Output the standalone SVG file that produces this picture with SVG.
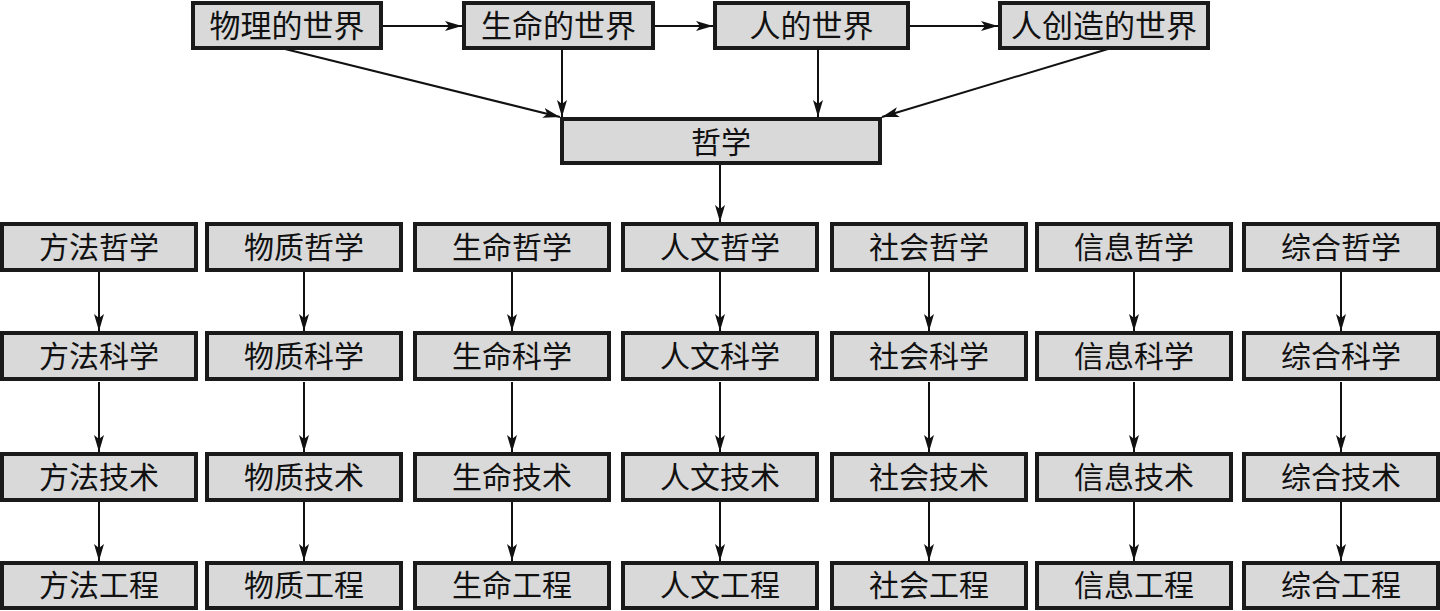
<svg xmlns="http://www.w3.org/2000/svg" width="1440" height="611" viewBox="0 0 1440 611">
<style>
.b{fill:#d9d9d9;stroke:#1a1a1a;stroke-width:4}
.t{font-family:"Noto Sans CJK SC","Noto Sans CJK JP",sans-serif;font-size:30px;fill:#111;text-anchor:middle}
.tt{font-size:31px}
.c{stroke:#111;stroke-width:2;fill:none;marker-end:url(#ah)}
</style>
<defs>
<marker id="ah" markerUnits="userSpaceOnUse" markerWidth="20" markerHeight="12" refX="17" refY="5" orient="auto">
<path d="M0,0 L17,5 L0,10 L4,5 z" fill="#111"/>
</marker>
</defs>
<rect width="1440" height="611" fill="#fff"/>
<g id="connectors">
<line class="c" x1="383" y1="26" x2="462" y2="26"/>
<line class="c" x1="655" y1="26" x2="713" y2="26"/>
<line class="c" x1="910" y1="26" x2="998" y2="26"/>
<line class="c" x1="285" y1="49" x2="560" y2="117"/>
<line class="c" x1="562" y1="49" x2="562" y2="117"/>
<line class="c" x1="818" y1="50" x2="818" y2="117"/>
<line class="c" x1="1108" y1="49" x2="882" y2="117"/>
<line class="c" x1="720" y1="165" x2="720" y2="222"/>
<g id="col-arrows">
<line class="c" x1="99" y1="272" x2="99" y2="331"/><line class="c" x1="99" y1="382" x2="99" y2="452"/><line class="c" x1="99" y1="502" x2="99" y2="561"/>
<line class="c" x1="304" y1="272" x2="304" y2="331"/><line class="c" x1="304" y1="382" x2="304" y2="452"/><line class="c" x1="304" y1="502" x2="304" y2="561"/>
<line class="c" x1="512" y1="272" x2="512" y2="331"/><line class="c" x1="512" y1="382" x2="512" y2="452"/><line class="c" x1="512" y1="502" x2="512" y2="561"/>
<line class="c" x1="720" y1="272" x2="720" y2="331"/><line class="c" x1="720" y1="382" x2="720" y2="452"/><line class="c" x1="720" y1="502" x2="720" y2="561"/>
<line class="c" x1="929" y1="272" x2="929" y2="331"/><line class="c" x1="929" y1="382" x2="929" y2="452"/><line class="c" x1="929" y1="502" x2="929" y2="561"/>
<line class="c" x1="1134" y1="272" x2="1134" y2="331"/><line class="c" x1="1134" y1="382" x2="1134" y2="452"/><line class="c" x1="1134" y1="502" x2="1134" y2="561"/>
<line class="c" x1="1341" y1="272" x2="1341" y2="331"/><line class="c" x1="1341" y1="382" x2="1341" y2="452"/><line class="c" x1="1341" y1="502" x2="1341" y2="561"/>
</g>
</g>
<g id="n-wuli"><rect class="b" x="193" y="3" width="188" height="45"/><text class="t tt" x="287" y="37">物理的世界</text></g>
<g id="n-shengming"><rect class="b" x="464" y="3" width="189" height="45"/><text class="t tt" x="558.5" y="37">生命的世界</text></g>
<g id="n-ren"><rect class="b" x="715" y="3" width="193" height="45"/><text class="t tt" x="811.5" y="37">人的世界</text></g>
<g id="n-renchuangzao"><rect class="b" x="1000" y="3" width="208" height="45"/><text class="t tt" x="1104" y="37">人创造的世界</text></g>
<g id="n-zhexue"><rect class="b" x="562" y="119" width="318" height="44"/><text class="t" x="721" y="153">哲学</text></g>

<g id="r1c1"><rect class="b" x="2" y="224" width="194" height="46"/><text class="t" x="99" y="258">方法哲学</text></g>
<g id="r1c2"><rect class="b" x="207" y="224" width="194" height="46"/><text class="t" x="304" y="258">物质哲学</text></g>
<g id="r1c3"><rect class="b" x="415" y="224" width="194" height="46"/><text class="t" x="512" y="258">生命哲学</text></g>
<g id="r1c4"><rect class="b" x="623" y="224" width="194" height="46"/><text class="t" x="720" y="258">人文哲学</text></g>
<g id="r1c5"><rect class="b" x="832" y="224" width="194" height="46"/><text class="t" x="929" y="258">社会哲学</text></g>
<g id="r1c6"><rect class="b" x="1037" y="224" width="194" height="46"/><text class="t" x="1134" y="258">信息哲学</text></g>
<g id="r1c7"><rect class="b" x="1244" y="224" width="194" height="46"/><text class="t" x="1341" y="258">综合哲学</text></g>

<g id="r2c1"><rect class="b" x="2" y="333" width="194" height="46"/><text class="t" x="99" y="367">方法科学</text></g>
<g id="r2c2"><rect class="b" x="207" y="333" width="194" height="46"/><text class="t" x="304" y="367">物质科学</text></g>
<g id="r2c3"><rect class="b" x="415" y="333" width="194" height="46"/><text class="t" x="512" y="367">生命科学</text></g>
<g id="r2c4"><rect class="b" x="623" y="333" width="194" height="46"/><text class="t" x="720" y="367">人文科学</text></g>
<g id="r2c5"><rect class="b" x="832" y="333" width="194" height="46"/><text class="t" x="929" y="367">社会科学</text></g>
<g id="r2c6"><rect class="b" x="1037" y="333" width="194" height="46"/><text class="t" x="1134" y="367">信息科学</text></g>
<g id="r2c7"><rect class="b" x="1244" y="333" width="194" height="46"/><text class="t" x="1341" y="367">综合科学</text></g>

<g id="r3c1"><rect class="b" x="2" y="454" width="194" height="46"/><text class="t" x="99" y="488">方法技术</text></g>
<g id="r3c2"><rect class="b" x="207" y="454" width="194" height="46"/><text class="t" x="304" y="488">物质技术</text></g>
<g id="r3c3"><rect class="b" x="415" y="454" width="194" height="46"/><text class="t" x="512" y="488">生命技术</text></g>
<g id="r3c4"><rect class="b" x="623" y="454" width="194" height="46"/><text class="t" x="720" y="488">人文技术</text></g>
<g id="r3c5"><rect class="b" x="832" y="454" width="194" height="46"/><text class="t" x="929" y="488">社会技术</text></g>
<g id="r3c6"><rect class="b" x="1037" y="454" width="194" height="46"/><text class="t" x="1134" y="488">信息技术</text></g>
<g id="r3c7"><rect class="b" x="1244" y="454" width="194" height="46"/><text class="t" x="1341" y="488">综合技术</text></g>

<g id="r4c1"><rect class="b" x="2" y="563" width="194" height="45"/><text class="t" x="99" y="596">方法工程</text></g>
<g id="r4c2"><rect class="b" x="207" y="563" width="194" height="45"/><text class="t" x="304" y="596">物质工程</text></g>
<g id="r4c3"><rect class="b" x="415" y="563" width="194" height="45"/><text class="t" x="512" y="596">生命工程</text></g>
<g id="r4c4"><rect class="b" x="623" y="563" width="194" height="45"/><text class="t" x="720" y="596">人文工程</text></g>
<g id="r4c5"><rect class="b" x="832" y="563" width="194" height="45"/><text class="t" x="929" y="596">社会工程</text></g>
<g id="r4c6"><rect class="b" x="1037" y="563" width="194" height="45"/><text class="t" x="1134" y="596">信息工程</text></g>
<g id="r4c7"><rect class="b" x="1244" y="563" width="194" height="45"/><text class="t" x="1341" y="596">综合工程</text></g>
</svg>
